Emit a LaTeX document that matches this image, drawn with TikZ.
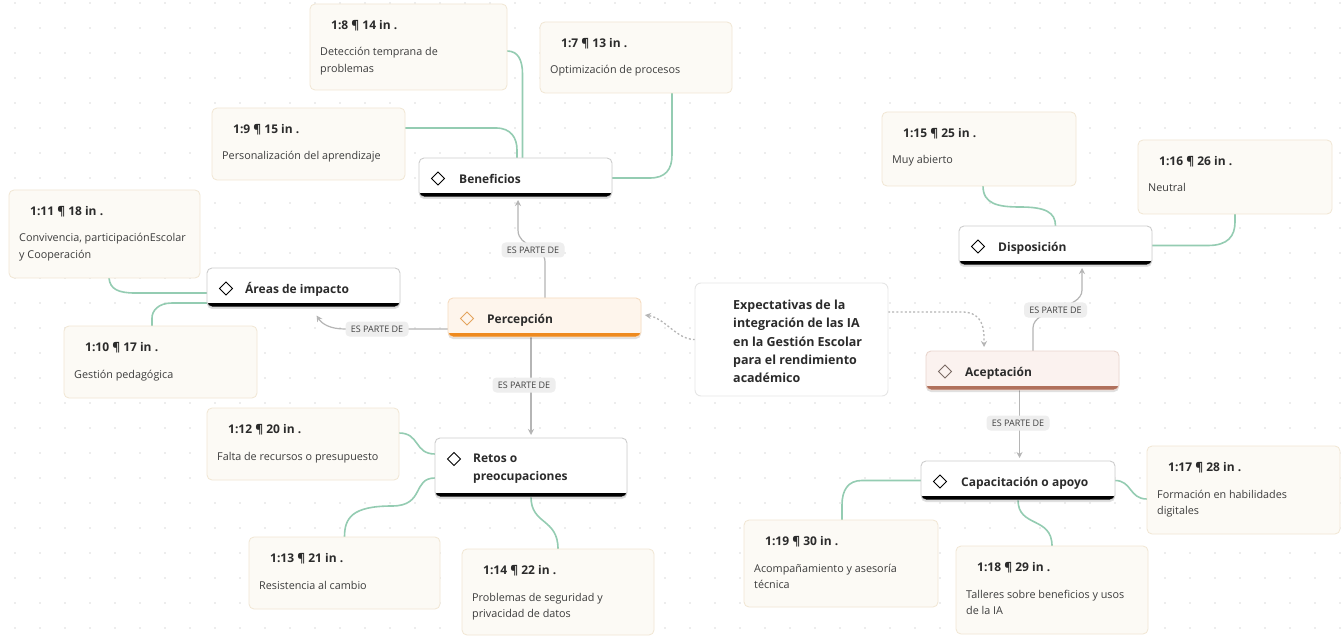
\documentclass[tikz,border=0pt]{standalone}
\usepackage{fontspec}
\setmainfont{Open Sans}
\usetikzlibrary{arrows.meta,shadows}
\pgfdeclarelayer{bg}
\pgfsetlayers{bg,main}
\definecolor{qfill}{HTML}{FCFAF5}
\definecolor{qborder}{HTML}{F1E6D3}
\definecolor{linkgreen}{HTML}{94CCB2}
\definecolor{relgray}{HTML}{B5B5B5}
\definecolor{pillfill}{HTML}{EEEEEE}
\definecolor{pilltxt}{HTML}{404040}
\definecolor{nodeborder}{HTML}{CDCDCD}
\definecolor{percfill}{HTML}{FEF5EC}
\definecolor{percborder}{HTML}{F6DCC0}
\definecolor{percbar}{HTML}{EE8A1F}
\definecolor{acefill}{HTML}{FBF2EF}
\definecolor{aceborder}{HTML}{E9D5CD}
\definecolor{acebar}{HTML}{B0705B}
\definecolor{diamorange}{HTML}{E4A45E}
\definecolor{diamgray}{HTML}{7A6A64}
\definecolor{expborder}{HTML}{E6E6E6}
\definecolor{titletxt}{HTML}{2B2B2B}
\definecolor{bodytxt}{HTML}{3C3C3C}
\definecolor{dotc}{HTML}{DCDCDC}
\tikzset{
  qbox/.style n args={2}{draw=qborder, fill=qfill, line width=0.8pt, rounded corners=5pt,
    inner sep=0pt, outer sep=0pt, anchor=north west, minimum width=#1, minimum height=#2},
  qtitle/.style={anchor=base west, inner sep=0pt, font=\fontsize{12}{14}\selectfont\bfseries, text=titletxt},
  qbody/.style={anchor=base west, inner sep=0pt, font=\fontsize{10.8}{16.5}\selectfont, text=bodytxt},
  concept/.style n args={5}{draw=#3, fill=#4, line width=0.9pt, rounded corners=5pt,
    inner sep=0pt, outer sep=0pt, anchor=north west, minimum width=#1, minimum height=#2,
    drop shadow={shadow xshift=0pt, shadow yshift=-2pt, opacity=0.12, fill=black},
    path picture={\fill[#5, sharp corners] ([yshift=4pt]path picture bounding box.south west) rectangle (path picture bounding box.south east);}},
  clabel/.style={anchor=base west, inner sep=0pt, font=\fontsize{12}{18}\selectfont\bfseries, text=titletxt},
  diam/.style={draw=#1, line width=1pt},
  link/.style={draw=linkgreen, line width=1.6pt},
  rel/.style={draw=relgray, line width=1.2pt, -{Stealth[length=6pt,width=6pt]}, shorten >=3pt},
  dotrel/.style={draw=relgray, line width=1.3pt, dash pattern=on 2pt off 2.2pt, -{Stealth[length=6pt,width=6pt]}, shorten >=4pt},
  pill/.style={fill=pillfill, rounded corners=4pt, inner sep=0pt, minimum width=63pt, minimum height=15pt,
    font=\fontsize{9}{10}\selectfont, text=pilltxt},
}
\begin{document}
\begin{tikzpicture}[x=1pt,y=-1pt]
\useasboundingbox (0,0) rectangle (1341,636);
\begin{pgfonlayer}{bg}
\fill[white] (0,0) rectangle (1341,636);
\foreach \i in {0,...,53}{\foreach \j in {0,...,25}{\fill[dotc] (15+25*\i,3+25*\j) circle[radius=0.9pt];}}
\end{pgfonlayer}

% ---------- quotation boxes ----------
\node[qbox={197pt}{86pt}] (q8) at (310,4) {};
\node[qtitle] at ([shift={(21,25.5)}]q8.north west) {1:8 ¶ 14 in .};
\node[qbody] at ([shift={(10,52)}]q8.north west) {\vtop{\hbox{Detección temprana de}\hbox{problemas}}};

\node[qbox={192pt}{71pt}] (q7) at (540,22) {};
\node[qtitle] at ([shift={(21,25.5)}]q7.north west) {1:7 ¶ 13 in .};
\node[qbody] at ([shift={(10,52)}]q7.north west) {Optimización de procesos};

\node[qbox={193pt}{72pt}] (q9) at (212,108) {};
\node[qtitle] at ([shift={(21,25.5)}]q9.north west) {1:9 ¶ 15 in .};
\node[qbody] at ([shift={(10,52)}]q9.north west) {Personalización del aprendizaje};

\node[qbox={191pt}{88pt}] (q11) at (9,190) {};
\node[qtitle] at ([shift={(21,25.5)}]q11.north west) {1:11 ¶ 18 in .};
\node[qbody] at ([shift={(10,52)}]q11.north west) {\vtop{\hbox{Convivencia, participaciónEscolar}\hbox{y Cooperación}}};

\node[qbox={193pt}{72pt}] (q10) at (64,326) {};
\node[qtitle] at ([shift={(21,25.5)}]q10.north west) {1:10 ¶ 17 in .};
\node[qbody] at ([shift={(10,52)}]q10.north west) {Gestión pedagógica};

\node[qbox={194pt}{74pt}] (q15) at (882,112) {};
\node[qtitle] at ([shift={(21,25.5)}]q15.north west) {1:15 ¶ 25 in .};
\node[qbody] at ([shift={(10,52)}]q15.north west) {Muy abierto};

\node[qbox={194pt}{74pt}] (q16) at (1138,140) {};
\node[qtitle] at ([shift={(21,25.5)}]q16.north west) {1:16 ¶ 26 in .};
\node[qbody] at ([shift={(10,52)}]q16.north west) {Neutral};

\node[qbox={192pt}{72pt}] (q12) at (207,408) {};
\node[qtitle] at ([shift={(21,25.5)}]q12.north west) {1:12 ¶ 20 in .};
\node[qbody] at ([shift={(10,52)}]q12.north west) {Falta de recursos o presupuesto};

\node[qbox={191pt}{72pt}] (q13) at (249,537) {};
\node[qtitle] at ([shift={(21,25.5)}]q13.north west) {1:13 ¶ 21 in .};
\node[qbody] at ([shift={(10,52)}]q13.north west) {Resistencia al cambio};

\node[qbox={192pt}{86pt}] (q14) at (462,549) {};
\node[qtitle] at ([shift={(21,25.5)}]q14.north west) {1:14 ¶ 22 in .};
\node[qbody] at ([shift={(10,52)}]q14.north west) {\vtop{\hbox{Problemas de seguridad y}\hbox{privacidad de datos}}};

\node[qbox={194pt}{87pt}] (q19) at (744,520) {};
\node[qtitle] at ([shift={(21,25.5)}]q19.north west) {1:19 ¶ 30 in .};
\node[qbody] at ([shift={(10,52)}]q19.north west) {\vtop{\hbox{Acompañamiento y asesoría}\hbox{técnica}}};

\node[qbox={192pt}{88pt}] (q18) at (956,546) {};
\node[qtitle] at ([shift={(21,25.5)}]q18.north west) {1:18 ¶ 29 in .};
\node[qbody] at ([shift={(10,52)}]q18.north west) {\vtop{\hbox{Talleres sobre beneficios y usos}\hbox{de la IA}}};

\node[qbox={193pt}{88pt}] (q17) at (1147,446) {};
\node[qtitle] at ([shift={(21,25.5)}]q17.north west) {1:17 ¶ 28 in .};
\node[qbody] at ([shift={(10,52)}]q17.north west) {\vtop{\hbox{Formación en habilidades}\hbox{digitales}}};

% ---------- concept nodes ----------
\node[concept={193pt}{39pt}{nodeborder}{white}{black}] (b) at (419,158) {};
\draw[diam=black] ([xshift=19pt,yshift=-1pt]b.west) +(-6.5,0) -- +(0,-6.5) -- +(6.5,0) -- +(0,6.5) -- cycle;
\node[clabel] at ([xshift=40pt,yshift=-5.8pt]b.west) {Beneficios};

\node[concept={193pt}{39pt}{nodeborder}{white}{black}] (a) at (207,268) {};
\draw[diam=black] ([xshift=19pt,yshift=-1pt]a.west) +(-6.5,0) -- +(0,-6.5) -- +(6.5,0) -- +(0,6.5) -- cycle;
\node[clabel] at ([xshift=38pt,yshift=-5.8pt]a.west) {Áreas de impacto};

\node[concept={193pt}{39pt}{percborder}{percfill}{percbar}] (p) at (448,298) {};
\draw[diam=diamorange] ([xshift=19pt,yshift=-1pt]p.west) +(-6.5,0) -- +(0,-6.5) -- +(6.5,0) -- +(0,6.5) -- cycle;
\node[clabel] at ([xshift=39pt,yshift=-5.8pt]p.west) {Percepción};

\node[concept={193pt}{39pt}{nodeborder}{white}{black}] (d) at (959,226) {};
\draw[diam=black] ([xshift=19pt,yshift=-1pt]d.west) +(-6.5,0) -- +(0,-6.5) -- +(6.5,0) -- +(0,6.5) -- cycle;
\node[clabel] at ([xshift=39pt,yshift=-5.8pt]d.west) {Disposición};

\node[concept={193pt}{39pt}{aceborder}{acefill}{acebar}] (ac) at (926,351) {};
\draw[diam=diamgray] ([xshift=19pt,yshift=-1pt]ac.west) +(-6.5,0) -- +(0,-6.5) -- +(6.5,0) -- +(0,6.5) -- cycle;
\node[clabel] at ([xshift=39pt,yshift=-5.8pt]ac.west) {Aceptación};

\node[concept={192pt}{59pt}{nodeborder}{white}{black}] (r) at (435,438) {};
\draw[diam=black] ([xshift=19pt,yshift=8.5pt]r.west) +(-6.5,0) -- +(0,-6.5) -- +(6.5,0) -- +(0,6.5) -- cycle;
\node[clabel] at ([xshift=38pt,yshift=4.7pt]r.west) {\vtop{\hbox{Retos o}\hbox{preocupaciones}}};

\node[concept={194pt}{39pt}{nodeborder}{white}{black}] (cap) at (921,461) {};
\draw[diam=black] ([xshift=19pt,yshift=-1pt]cap.west) +(-6.5,0) -- +(0,-6.5) -- +(6.5,0) -- +(0,6.5) -- cycle;
\node[clabel] at ([xshift=40pt,yshift=-5.8pt]cap.west) {Capacitación o apoyo};

\node[draw=expborder, fill=white, line width=0.9pt, rounded corners=6pt, inner sep=0pt, outer sep=0pt,
  anchor=north west, minimum width=193pt, minimum height=113pt] (e) at (695,283) {};
\node[anchor=base west, inner sep=0pt, font=\fontsize{12.5}{18.3}\selectfont\bfseries, text=titletxt]
  at ([shift={(38,26.5)}]e.north west) {\vtop{\hbox{Expectativas de la}\hbox{integración de las IA}\hbox{en la Gestión Escolar}\hbox{para el rendimiento}\hbox{académico}}};

% ---------- connectors ----------
\begin{pgfonlayer}{bg}
\draw[link] ([yshift=-4pt]q8.east) .. controls (518,51) and (522.5,60) .. (522.5,74) -- ([xshift=7pt]b.north);
\draw[link] ([yshift=16pt]q9.east) -- (496,128) .. controls (511,128) and (517,138) .. (517,150) -- ([xshift=1.5pt]b.north);
\draw[link] ([yshift=-0.5pt]b.east) -- (650,178) .. controls (665,178) and (672,170) .. (672,155) -- ([xshift=36pt]q7.south);
\draw[link] ([xshift=4.5pt]q11.south) .. controls (110,289) and (118,293) .. (135,293) -- ([yshift=-5.5pt]a.west);
\draw[link] ([yshift=-15.5pt]a.west) -- (172,303) .. controls (158,303) and (152,311) .. (152,318) -- ([xshift=-8.5pt]q10.north);
\draw[link] ([yshift=11pt]q12.east) .. controls (420,433) and (414,454) .. ([yshift=13.5pt]r.west);
\draw[link] ([yshift=-10.5pt]r.west) .. controls (412,478) and (425,506) .. (392,506) .. controls (352,506) and (344.5,518) .. (q13.north);
\draw[link] (r.south) .. controls (531,525) and (558,518) .. (q14.north);
\draw[link] (cap.west) -- (862,480.5) .. controls (848,480.5) and (842,490) .. (842,505) -- ([xshift=1pt]q19.north);
\draw[link] (cap.south) .. controls (1018,528) and (1052,516) .. (q18.north);
\draw[link] (cap.east) .. controls (1132,480.5) and (1129,499) .. ([yshift=-9pt]q17.west);
\draw[link] ([xshift=4pt]q15.south) .. controls (983,204) and (998,207) .. (1020,207) .. controls (1045,207) and (1055.5,212) .. (d.north);
\draw[link] (d.east) -- (1208,245.5) .. controls (1228,245.5) and (1235,236) .. (1235,222) -- (q16.south);

\draw[rel] ([xshift=0.5pt]p.north) -- (545,262) .. controls (545,245) and (518,248) .. (518,230) -- ([xshift=2.5pt]b.south);
\draw[rel] ([yshift=-11.5pt]p.west) -- (345,329) .. controls (330,329) and (322,324) .. ([xshift=11.5pt,yshift=-6pt]a.south);
\draw[rel] ([xshift=-13.5pt]p.south) -- (r.north);
\draw[rel] ([xshift=10.5pt]ac.north) -- (1033,328) .. controls (1033,308) and (1082,310) .. (1082,290) -- ([xshift=26.5pt]d.south);
\draw[rel] ([xshift=-3pt]ac.south) -- ([xshift=1.5pt]cap.north);
\draw[dotrel] (e.west) .. controls (677,340) and (665,318) .. ([yshift=3pt]p.east);
\draw[dotrel] ([yshift=27.5pt]e.east) -- (962,312) .. controls (978,312) and (984,322) .. (984,338) -- ([xshift=-38.5pt]ac.north);
\end{pgfonlayer}

% ---------- relation labels ----------
\node[pill] (l1) at (533,250) {ES PARTE DE};
\node[pill] (l2) at (377,329) {ES PARTE DE};
\node[pill] (l3) at (524,385) {ES PARTE DE};
\node[pill] (l4) at (1055.5,310) {ES PARTE DE};
\node[pill] (l5) at (1018,423) {ES PARTE DE};
\end{tikzpicture}
\end{document}
